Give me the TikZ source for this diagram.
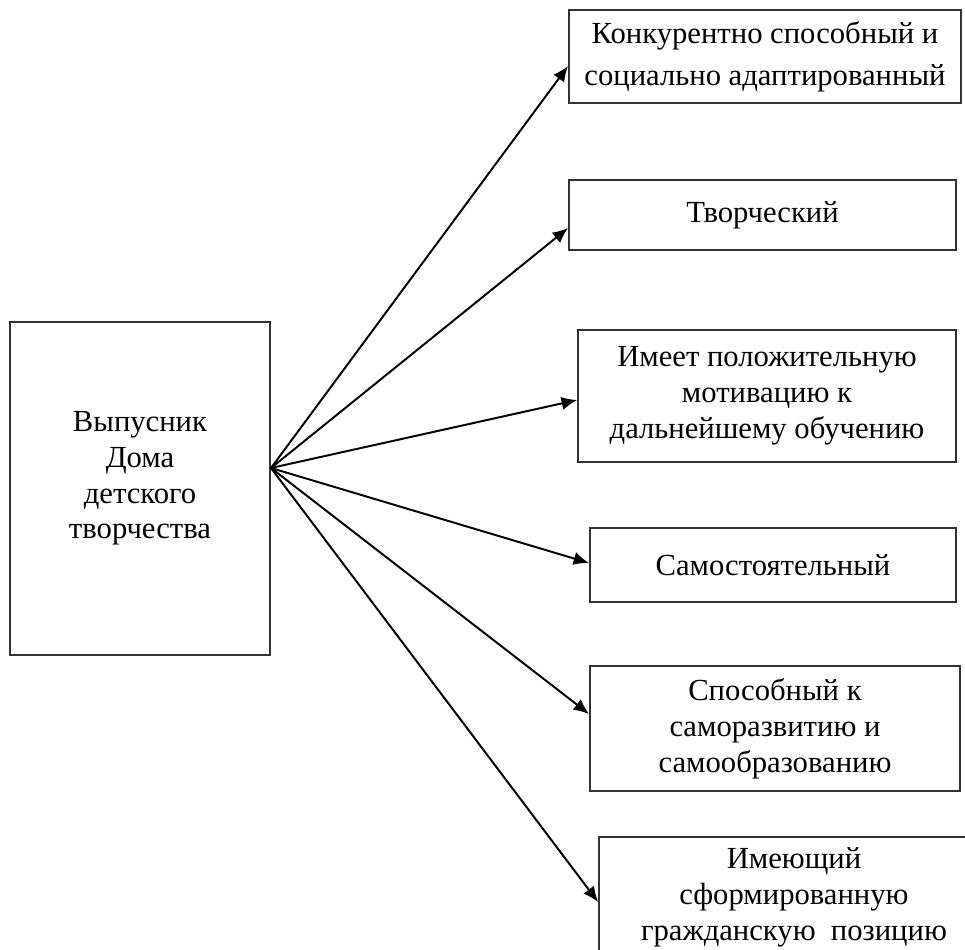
\documentclass[tikz,border=0pt]{standalone}
\usepackage{fontspec}
\setmainfont{Liberation Serif}
\usepackage{tikz}
\usetikzlibrary{calc, arrows.meta}

\tikzset{
	box/.style={draw=black!80, line width=1.3pt, rectangle, inner sep=0pt, align=center,
		font=\fontsize{21.8}{25.5}\selectfont},
	arr/.style={line width=1.4pt, -{Latex[length=11pt, width=9.5pt]}},
}

\begin{document}
\begin{tikzpicture}[x=0.025cm, y=-0.025cm]
		\useasboundingbox (0,0) rectangle (965,949);

		% graduate
		\node[box, minimum width=260*0.025cm, minimum height=333*0.025cm] (grad) at (140,488.5)
			{Выпусник\\Дома\\детского\\творчества\\[-0.225cm]};
		\coordinate (hub) at (271,468);

		% qualities
		\node[box, minimum width=392*0.025cm, minimum height=93*0.025cm,
			font=\fontsize{21.8}{30}\selectfont] (b1) at (765,56.5)
			{Конкурентно способный и\\социально адаптированный};
		\node[box, minimum width=387*0.025cm, minimum height=70*0.025cm] (b2) at (762.5,215)
			{Творческий};
		\node[box, minimum width=378*0.025cm, minimum height=132*0.025cm] (b3) at (767,396)
			{Имеет положительную\\мотивацию к\\дальнейшему обучению};
		\node[box, minimum width=366*0.025cm, minimum height=74*0.025cm] (b4) at (773,565)
			{Самостоятельный};
		\node[box, minimum width=370*0.025cm, minimum height=125*0.025cm] (b5) at (775,728.5)
			{Способный к\\саморазвитию и\\самообразованию};
		\node[box, minimum width=390*0.025cm, minimum height=120*0.025cm] (b6) at (794,897)
			{Имеющий\\сформированную\\гражданскую\ \ позицию};

		\begin{scope}[arr]
			\draw (hub) -- ($(b1.west)+(0,9.5)$);
			\draw (hub) -- ($(b2.west)+(0,13)$);
			\draw (hub) -- ($(b3.west)+(0,4)$);
			\draw (hub) -- ($(b4.west)+(0,-2)$);
			\draw (hub) -- ($(b5.west)+(0,-14.5)$);
			\draw (hub) -- ($(b6.west)+(0,5)$);
		\end{scope}
	\end{tikzpicture}
\end{document}
